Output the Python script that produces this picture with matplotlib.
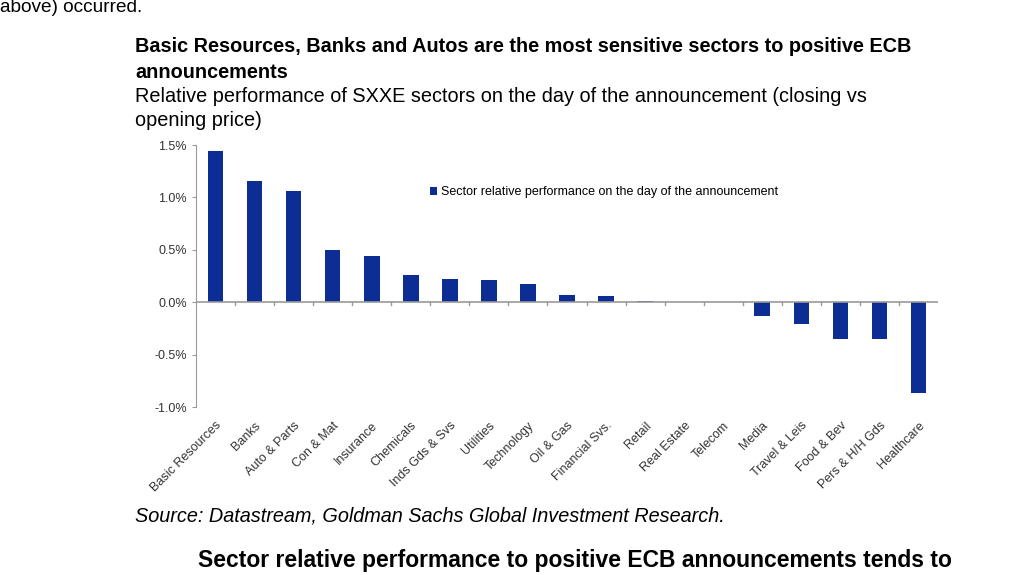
import matplotlib.pyplot as plt
import numpy as np
from matplotlib.ticker import FuncFormatter

plt.rcParams["font.family"] = ["Liberation Sans", "DejaVu Sans"]

# datos
sectores = [
    "Basic Resources", "Banks", "Auto & Parts", "Con & Mat", "Insurance",
    "Chemicals", "Inds Gds & Svs", "Utilities", "Technology", "Oil & Gas",
    "Financial Svs.", "Retail", "Real Estate", "Telecom", "Media",
    "Travel & Leis", "Food & Bev", "Pers & H/H Gds", "Healthcare",
]
rendimiento = [
    1.44, 1.16, 1.06, 0.50, 0.44,
    0.26, 0.22, 0.21, 0.17, 0.065,
    0.06, 0.01, 0.0, 0.0, -0.13,
    -0.21, -0.35, -0.355, -0.87,
]
yticks = [-1.0, -0.5, 0.0, 0.5, 1.0, 1.5]

AZUL = "#0c2e94"
GRIS = "#9a9a9a"


def main():
    fig = plt.figure(figsize=(10.24, 5.75), dpi=100)
    ax = fig.add_axes([196 / 1024, 1 - 407 / 575, (938 - 196) / 1024, (407 - 145) / 575])

    x = np.arange(len(sectores))
    ax.bar(x, rendimiento, width=0.4, color=AZUL,
           label="Sector relative performance on the day of the announcement")

    ax.set_xlim(-0.5, len(sectores) - 0.5)
    ax.set_ylim(-1.0, 1.5)
    ax.set_yticks(yticks)
    ax.yaxis.set_major_formatter(FuncFormatter(lambda v, _: f"{v:.1f}%"))
    ax.tick_params(axis="y", labelsize=9, colors="#333333", length=3, color=GRIS)

    # eje x en cero, ticks entre categorias
    for lado in ("top", "right", "bottom"):
        ax.spines[lado].set_visible(False)
    ax.spines["left"].set_color(GRIS)
    ax.axhline(0, color=GRIS, linewidth=1.2, zorder=1)
    for b in np.arange(0.5, len(sectores) - 0.5, 1.0):
        ax.plot([b, b], [0, -0.03], color=GRIS, linewidth=1, zorder=1)

    ax.set_xticks(x)
    ax.set_xticklabels(sectores, rotation=45, ha="right", rotation_mode="anchor",
                       fontsize=9, color="#333333")
    ax.tick_params(axis="x", length=0, pad=9)

    ax.legend(loc="upper left", bbox_to_anchor=(0.3, 0.885), frameon=False,
              fontsize=9, handlelength=0.6, handleheight=0.6, handletextpad=0.3)

    # textos del documento alrededor del grafico
    fig.text(0.0, 1 - 8 / 575, "above) occurred.", fontsize=13.7, va="center", ha="left")
    fig.text(135 / 1024, 1 - 47 / 575,
             "Basic Resources, Banks and Autos are the most sensitive sectors to positive ECB",
             fontsize=14.3, fontweight="bold", va="center")
    fig.text(135 / 1024, 1 - 72 / 575, "announcements",
             fontsize=14.3, fontweight="bold", va="center")
    fig.text(135 / 1024, 1 - 97 / 575,
             "Relative performance of SXXE sectors on the day of the announcement (closing vs",
             fontsize=14.3, va="center")
    fig.text(135 / 1024, 1 - 121 / 575, "opening price)", fontsize=14.3, va="center")
    fig.text(135 / 1024, 1 - 516 / 575,
             "Source: Datastream, Goldman Sachs Global Investment Research.",
             fontsize=14.3, style="italic", va="center")
    fig.text(575 / 1024, 1 - 560 / 575,
             "Sector relative performance to positive ECB announcements tends to",
             fontsize=16.5, fontweight="bold", va="center", ha="center")

    fig.savefig("out.png", dpi=100)


if __name__ == "__main__":
    main()
